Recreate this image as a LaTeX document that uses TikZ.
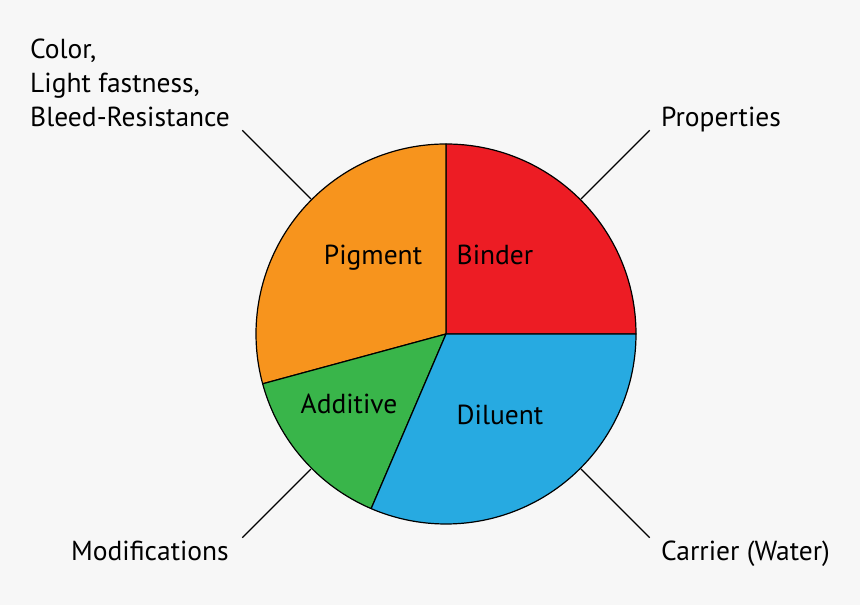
\documentclass[tikz,border=0pt]{standalone}
\usepackage{fontspec}
\setmainfont{PT Sans}
\usepackage{tikz}
\usetikzlibrary{positioning,calc}
\definecolor{bgcol}{HTML}{F7F7F7}
\definecolor{bindercol}{HTML}{ED1C24}
\definecolor{pigmentcol}{HTML}{F7941D}
\definecolor{additivecol}{HTML}{39B54A}
\definecolor{diluentcol}{HTML}{27AAE1}

\begin{document}
\begin{tikzpicture}[x=1pt,y=1pt,
      wedge/.style={draw=black,line width=1.2pt,line join=round},
      lbl/.style={inner sep=0pt,font=\fontsize{27.5}{34}\selectfont},
      lead/.style={line width=1.2pt}]
    \fill[bgcol] (0,0) rectangle (860,605);
    \useasboundingbox (0,0) rectangle (860,605);
    \coordinate (c) at (446,271);
    % the four wedges
    \foreach \a/\b/\col in {0/90/bindercol,90/195.2/pigmentcol,195.2/246.8/additivecol,246.8/360/diluentcol} {
      \filldraw[wedge,fill=\col] (c) -- ++(\a:190) arc[start angle=\a,end angle=\b,radius=190] -- cycle;
    }
    % leader lines
    \foreach \n/\ang in {tl/135,tr/45,bl/225,br/315} {
      \coordinate (in\n) at ($(c)+(\ang:191)$);
      \coordinate (out\n) at ($(c)+(\ang:288)$);
      \draw[lead] (in\n) -- (out\n);
    }
    % slice names
    \node[lbl,anchor=base] (pigment) at (373,340) {Pigment};
    \node[lbl,anchor=base] (binder) at (495,340) {Binder};
    \node[lbl,anchor=base] (additive) at (349,191) {Additive};
    \node[lbl,anchor=base] (diluent) at (500,180) {Diluent};
    % outer texts
    \node[lbl,anchor=base west,align=left] (colour) at (30,478) {Color,\\Light fastness,\\Bleed-Resistance};
    \node[lbl,anchor=base west] (props) at (661,478) {Properties};
    \node[lbl,anchor=base west] (mods) at (71,44) {Modifications};
    \node[lbl,anchor=base west] (carrier) at (661,44) {Carrier (Water)};
  \end{tikzpicture}
\end{document}
